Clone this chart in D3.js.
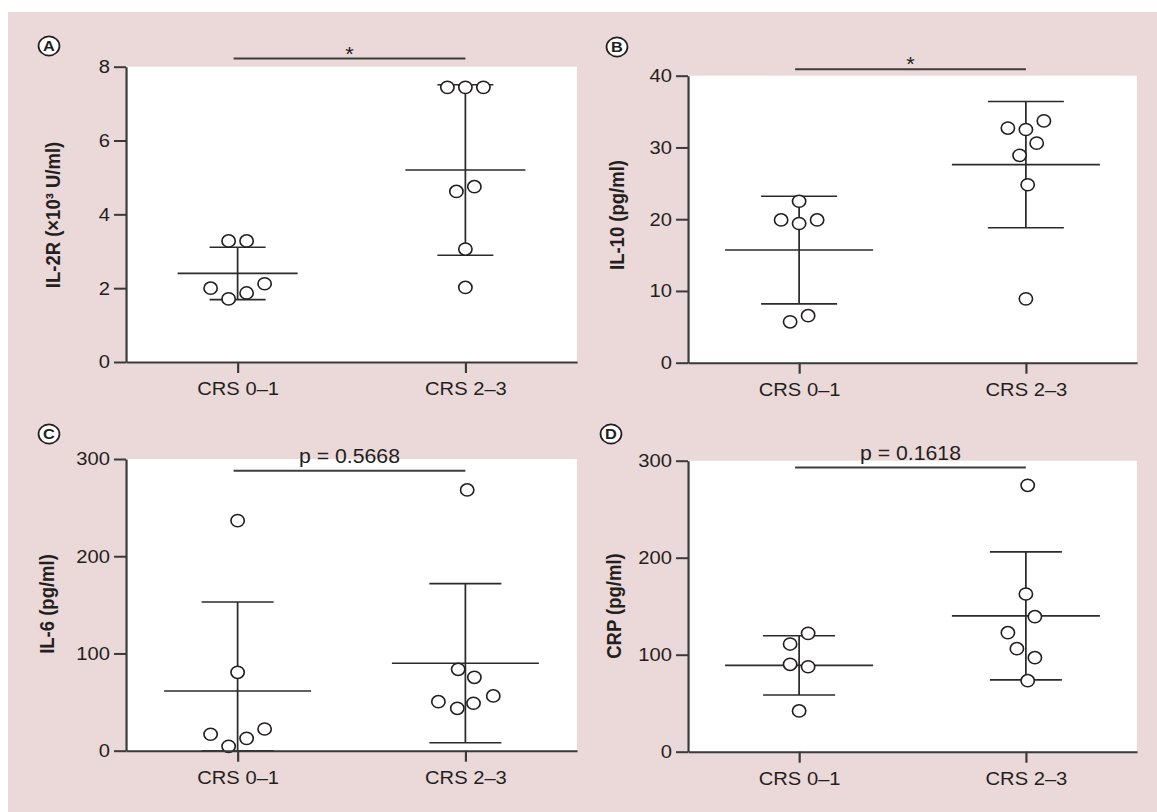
<!DOCTYPE html>
<html>
<head>
<meta charset="utf-8">
<script src="https://cdnjs.cloudflare.com/ajax/libs/d3/7.8.5/d3.min.js"></script>
<style>
  body { margin: 0; background: #fff; }
  svg { display: block; font-family: 'Liberation Sans', Arial, sans-serif; }
</style>
</head>
<body>
<script>
var width = 1157,
    height = 812,
    sx = 1.09,          // the original figure is a little stretched horizontally
    slot = 9,           // horizontal spacing of jittered points, px
    ink = '#231f20';

// data
var groups = ['CRS 0–1', 'CRS 2–3'];
var panelKeys = ['A', 'B', 'C', 'D'];
var yTitles = ['IL-2R (×10³ U/ml)', 'IL-10 (pg/ml)', 'IL-6 (pg/ml)', 'CRP  (pg/ml)'];
var yMax = [8, 40, 300, 300];
var yTicks = [[0, 2, 4, 6, 8], [0, 10, 20, 30, 40], [0, 100, 200, 300], [0, 100, 200, 300]];
var sigLabels = ['*', '*', 'p = 0.5668', 'p = 0.1618'];
var sigLevels = [8.22, 40.9, 288, 293];

var il2r = [[3.28, 3.28, 2.0, 1.71, 1.87, 2.12], [7.44, 7.44, 7.44, 4.62, 4.75, 3.06, 2.02]];
var il2rSlots = [[-1, 1, -3, -1, 1, 3], [-2, 0, 2, -1, 1, 0, 0]];
var il2rMean = [2.40, 5.20];
var il2rSd = [0.71, 2.31];

var il10 = [[22.5, 19.9, 19.4, 19.9, 5.7, 6.55], [32.7, 32.5, 33.7, 30.6, 28.9, 24.8, 8.9]];
var il10Slots = [[0, -2, 0, 2, -1, 1], [-2, 0, 2, 1.2, -0.7, 0.2, 0]];
var il10Mean = [15.7, 27.6];
var il10Sd = [7.5, 8.8];

var il6 = [[236.6, 80.6, 16.9, 4.5, 12.7, 22.3], [268.2, 83.7, 75.5, 50.4, 43.6, 48.8, 56.3]];
var il6Slots = [[0, 0, -3, -1, 1, 3], [0.2, -0.8, 1, -3, -0.9, 0.9, 3.1]];
var il6Mean = [61.4, 90.0];
var il6Sd = [91.6, 81.8];

var crp = [[122, 111, 90.1, 87.6, 42], [274.6, 162.6, 139.2, 122.7, 106.2, 96.9, 73.2]];
var crpSlots = [[1, -1, -1, 1, 0], [0.2, 0, 1, -2, -1, 1, 0.2]];
var crpMean = [89.0, 140.0];
var crpSd = [30.5, 66.0];

var values = [il2r, il10, il6, crp],
    slots = [il2rSlots, il10Slots, il6Slots, crpSlots],
    means = [il2rMean, il10Mean, il6Mean, crpMean],
    sds = [il2rSd, il10Sd, il6Sd, crpSd];

// layout, screen px
var boxes = [
    {left: 126, right: 577, top: 66.7, bottom: 362, cap: 28, mean: 60, key: [49, 46], title: [53, 215]},
    {left: 688, right: 1137, top: 75.7, bottom: 362.7, cap: 38, mean: 74, key: [617, 47], title: [617, 215]},
    {left: 126, right: 577, top: 459, bottom: 750.7, cap: 36, mean: 73.5, key: [49, 434], title: [47, 604]},
    {left: 688, right: 1137, top: 460.7, bottom: 751.7, cap: 36, mean: 74, key: [611, 434], title: [614, 606]}
];

var svg = d3.select('body').append('svg')
    .attr('width', width)
    .attr('height', height);

svg.append('rect')
    .attr('x', 8)
    .attr('y', 12)
    .attr('width', width - 8)
    .attr('height', height - 12)
    .attr('fill', '#ebd8d8');

var root = svg.append('g')
    .attr('transform', 'scale(' + sx + ',1)');

panelKeys.forEach(function(key, i) {
    var b = boxes[i],
        w = (b.right - b.left) / sx,
        h = b.bottom - b.top;

    var x = d3.scalePoint().domain(groups).range([0, w]).padding(0.49),
        y = d3.scaleLinear().domain([0, yMax[i]]).range([h, 0]),
        yc = y.copy().clamp(true);

    var g = root.append('g')
        .attr('transform', 'translate(' + b.left / sx + ',' + b.top + ')');

    g.append('rect')
        .attr('width', w)
        .attr('height', h)
        .attr('fill', '#fff');

    // significance bar
    var sy = y(sigLevels[i]),
        x0 = x(groups[0]) - 4 / sx,
        x1 = x(groups[1]);
    g.append('line')
        .attr('x1', x0).attr('x2', x1)
        .attr('y1', sy).attr('y2', sy)
        .attr('stroke', '#3d3d3d')
        .attr('stroke-width', 2);
    var star = sigLabels[i] === '*';
    g.append('text')
        .attr('x', (x0 + x1) / 2)
        .attr('y', star ? sy + 2 : sy - 8)
        .attr('text-anchor', 'middle')
        .attr('fill', ink)
        .style('font-size', star ? '20px' : '19.5px')
        .text(sigLabels[i]);

    // mean +/- SD
    groups.forEach(function(grp, j) {
        var cx = x(grp),
            m = means[i][j],
            s = sds[i][j],
            bars = g.append('g')
                .attr('stroke', '#2b2b2b')
                .attr('stroke-width', 1.6);
        bars.append('line')
            .attr('x1', cx).attr('x2', cx)
            .attr('y1', yc(m - s)).attr('y2', yc(m + s));
        [m - s, m + s].forEach(function(v) {
            bars.append('line')
                .attr('x1', cx - b.cap / sx).attr('x2', cx + b.cap / sx)
                .attr('y1', yc(v)).attr('y2', yc(v));
        });
        bars.append('line')
            .attr('x1', cx - b.mean / sx).attr('x2', cx + b.mean / sx)
            .attr('y1', y(m)).attr('y2', y(m));

        g.append('g').selectAll('circle')
            .data(values[i][j])
            .enter().append('circle')
            .attr('cx', function(d, k) { return cx + slots[i][j][k] * slot / sx; })
            .attr('cy', function(d) { return y(d); })
            .attr('r', 6.1)
            .attr('fill', '#fff')
            .attr('stroke', ink)
            .attr('stroke-width', 1.5);
    });

    // axes
    var yAxis = g.append('g')
        .call(d3.axisLeft(y).tickValues(yTicks[i]).tickSize(12 / sx).tickSizeOuter(0).tickPadding(4 / sx));
    var xAxis = g.append('g')
        .attr('transform', 'translate(0,' + h + ')')
        .call(d3.axisBottom(x).tickSize(11).tickSizeOuter(0).tickPadding(9));

    [yAxis, xAxis].forEach(function(ax) {
        ax.selectAll('.domain, .tick line')
            .attr('stroke', '#3a3a3a')
            .attr('stroke-width', 2);
        ax.selectAll('text')
            .attr('fill', ink)
            .style('font-size', '18.5px')
            .style('font-family', "'Liberation Sans', Arial, sans-serif");
    });

    // y title
    root.append('text')
        .attr('transform', 'translate(' + b.title[0] / sx + ',' + b.title[1] + ')rotate(-90)')
        .attr('text-anchor', 'middle')
        .attr('dy', '0.35em')
        .attr('fill', ink)
        .style('font-size', '18.5px')
        .style('font-weight', 'bold')
        .text(yTitles[i]);

    // panel letter
    var k = root.append('g')
        .attr('transform', 'translate(' + b.key[0] / sx + ',' + b.key[1] + ')');
    k.append('circle')
        .attr('r', 9.6)
        .attr('fill', '#fff')
        .attr('stroke', ink)
        .attr('stroke-width', 1.6);
    k.append('text')
        .attr('text-anchor', 'middle')
        .attr('dy', '0.36em')
        .attr('fill', ink)
        .style('font-size', '15px')
        .style('font-weight', 'bold')
        .text(key);
});
</script>
</body>
</html>
